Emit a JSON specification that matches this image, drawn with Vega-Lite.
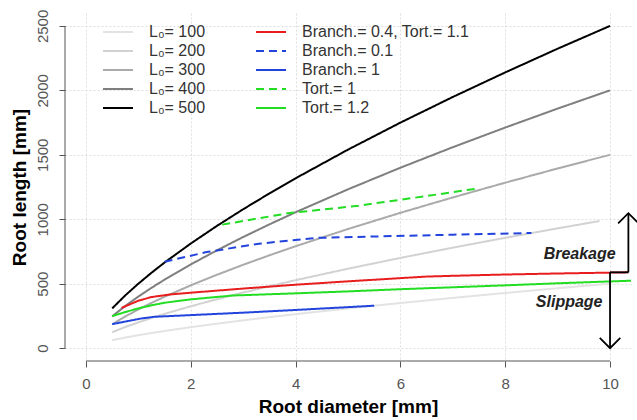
{
  "$schema": "https://vega.github.io/schema/vega-lite/v6.json",
  "width": 566,
  "height": 348,
  "autosize": {"type": "none"},
  "padding": {"left": 65, "top": 13, "right": 6, "bottom": 59},
  "background": "white",
  "config": {"view": {"stroke": null}, "font": "Liberation Sans"},
  "datasets": {
    "curves": [
      {"series": "L₀= 100", "d": 0.5, "L": 61.6}, {"series": "L₀= 100", "d": 0.75, "L": 81.8}, {"series": "L₀= 100", "d": 1, "L": 100}, {"series": "L₀= 100", "d": 1.25, "L": 116.9}, {"series": "L₀= 100", "d": 1.5, "L": 132.8}, {"series": "L₀= 100", "d": 2, "L": 162.3}, {"series": "L₀= 100", "d": 2.5, "L": 189.7}, {"series": "L₀= 100", "d": 3, "L": 215.5}, {"series": "L₀= 100", "d": 3.5, "L": 240}, {"series": "L₀= 100", "d": 4, "L": 263.5}, {"series": "L₀= 100", "d": 5, "L": 308}, {"series": "L₀= 100", "d": 6, "L": 349.9}, {"series": "L₀= 100", "d": 7, "L": 389.7}, {"series": "L₀= 100", "d": 8, "L": 427.8}, {"series": "L₀= 100", "d": 9, "L": 464.6}, {"series": "L₀= 100", "d": 10, "L": 500},
      {"series": "L₀= 200", "d": 0.5, "L": 123.2}, {"series": "L₀= 200", "d": 0.75, "L": 163.6}, {"series": "L₀= 200", "d": 1, "L": 200}, {"series": "L₀= 200", "d": 1.25, "L": 233.8}, {"series": "L₀= 200", "d": 1.5, "L": 265.6}, {"series": "L₀= 200", "d": 2, "L": 324.6}, {"series": "L₀= 200", "d": 2.5, "L": 379.4}, {"series": "L₀= 200", "d": 3, "L": 431}, {"series": "L₀= 200", "d": 3.5, "L": 480}, {"series": "L₀= 200", "d": 4, "L": 527}, {"series": "L₀= 200", "d": 5, "L": 616}, {"series": "L₀= 200", "d": 6, "L": 699.8}, {"series": "L₀= 200", "d": 7, "L": 779.4}, {"series": "L₀= 200", "d": 8, "L": 855.6}, {"series": "L₀= 200", "d": 9, "L": 929.2}, {"series": "L₀= 200", "d": 9.8, "L": 986},
      {"series": "L₀= 300", "d": 0.5, "L": 184.8}, {"series": "L₀= 300", "d": 0.75, "L": 245.4}, {"series": "L₀= 300", "d": 1, "L": 300}, {"series": "L₀= 300", "d": 1.25, "L": 350.7}, {"series": "L₀= 300", "d": 1.5, "L": 398.4}, {"series": "L₀= 300", "d": 2, "L": 486.9}, {"series": "L₀= 300", "d": 2.5, "L": 569.1}, {"series": "L₀= 300", "d": 3, "L": 646.5}, {"series": "L₀= 300", "d": 3.5, "L": 720}, {"series": "L₀= 300", "d": 4, "L": 790.5}, {"series": "L₀= 300", "d": 5, "L": 924}, {"series": "L₀= 300", "d": 6, "L": 1049.7}, {"series": "L₀= 300", "d": 7, "L": 1169.1}, {"series": "L₀= 300", "d": 8, "L": 1283.4}, {"series": "L₀= 300", "d": 9, "L": 1393.8}, {"series": "L₀= 300", "d": 10, "L": 1500},
      {"series": "L₀= 400", "d": 0.5, "L": 246.4}, {"series": "L₀= 400", "d": 0.75, "L": 327.2}, {"series": "L₀= 400", "d": 1, "L": 400}, {"series": "L₀= 400", "d": 1.25, "L": 467.6}, {"series": "L₀= 400", "d": 1.5, "L": 531.2}, {"series": "L₀= 400", "d": 2, "L": 649.2}, {"series": "L₀= 400", "d": 2.5, "L": 758.8}, {"series": "L₀= 400", "d": 3, "L": 862}, {"series": "L₀= 400", "d": 3.5, "L": 960}, {"series": "L₀= 400", "d": 4, "L": 1054}, {"series": "L₀= 400", "d": 5, "L": 1232}, {"series": "L₀= 400", "d": 6, "L": 1399.6}, {"series": "L₀= 400", "d": 7, "L": 1558.8}, {"series": "L₀= 400", "d": 8, "L": 1711.2}, {"series": "L₀= 400", "d": 9, "L": 1858.4}, {"series": "L₀= 400", "d": 10, "L": 2000},
      {"series": "L₀= 500", "d": 0.5, "L": 308}, {"series": "L₀= 500", "d": 0.75, "L": 409}, {"series": "L₀= 500", "d": 1, "L": 500}, {"series": "L₀= 500", "d": 1.25, "L": 584.5}, {"series": "L₀= 500", "d": 1.5, "L": 664}, {"series": "L₀= 500", "d": 2, "L": 811.5}, {"series": "L₀= 500", "d": 2.5, "L": 948.5}, {"series": "L₀= 500", "d": 3, "L": 1077.5}, {"series": "L₀= 500", "d": 3.5, "L": 1200}, {"series": "L₀= 500", "d": 4, "L": 1317.5}, {"series": "L₀= 500", "d": 5, "L": 1540}, {"series": "L₀= 500", "d": 6, "L": 1749.5}, {"series": "L₀= 500", "d": 7, "L": 1948.5}, {"series": "L₀= 500", "d": 8, "L": 2139}, {"series": "L₀= 500", "d": 9, "L": 2323}, {"series": "L₀= 500", "d": 10, "L": 2500},
      {"series": "Branch.= 1", "d": 0.5, "L": 186}, {"series": "Branch.= 1", "d": 0.8, "L": 210}, {"series": "Branch.= 1", "d": 1.06, "L": 230}, {"series": "Branch.= 1", "d": 1.3, "L": 243}, {"series": "Branch.= 1", "d": 2, "L": 256}, {"series": "Branch.= 1", "d": 3, "L": 275}, {"series": "Branch.= 1", "d": 4, "L": 296}, {"series": "Branch.= 1", "d": 5, "L": 318}, {"series": "Branch.= 1", "d": 5.5, "L": 329},
      {"series": "Tort.= 1.2", "d": 0.5, "L": 248}, {"series": "Tort.= 1.2", "d": 0.75, "L": 280}, {"series": "Tort.= 1.2", "d": 1, "L": 308}, {"series": "Tort.= 1.2", "d": 1.25, "L": 332}, {"series": "Tort.= 1.2", "d": 1.5, "L": 352}, {"series": "Tort.= 1.2", "d": 2, "L": 378}, {"series": "Tort.= 1.2", "d": 2.5, "L": 397}, {"series": "Tort.= 1.2", "d": 2.8, "L": 408}, {"series": "Tort.= 1.2", "d": 4, "L": 425}, {"series": "Tort.= 1.2", "d": 5, "L": 440}, {"series": "Tort.= 1.2", "d": 6, "L": 457}, {"series": "Tort.= 1.2", "d": 7, "L": 472}, {"series": "Tort.= 1.2", "d": 8, "L": 487}, {"series": "Tort.= 1.2", "d": 9, "L": 503}, {"series": "Tort.= 1.2", "d": 10.4, "L": 523},
      {"series": "Branch.= 0.4, Tort.= 1.1", "d": 0.68, "L": 312}, {"series": "Branch.= 0.4, Tort.= 1.1", "d": 1, "L": 368}, {"series": "Branch.= 0.4, Tort.= 1.1", "d": 1.25, "L": 396}, {"series": "Branch.= 0.4, Tort.= 1.1", "d": 1.6, "L": 416}, {"series": "Branch.= 0.4, Tort.= 1.1", "d": 2, "L": 430}, {"series": "Branch.= 0.4, Tort.= 1.1", "d": 2.5, "L": 446}, {"series": "Branch.= 0.4, Tort.= 1.1", "d": 3, "L": 462}, {"series": "Branch.= 0.4, Tort.= 1.1", "d": 4, "L": 492}, {"series": "Branch.= 0.4, Tort.= 1.1", "d": 5, "L": 518}, {"series": "Branch.= 0.4, Tort.= 1.1", "d": 6, "L": 543}, {"series": "Branch.= 0.4, Tort.= 1.1", "d": 6.5, "L": 555}, {"series": "Branch.= 0.4, Tort.= 1.1", "d": 7, "L": 561}, {"series": "Branch.= 0.4, Tort.= 1.1", "d": 8, "L": 571}, {"series": "Branch.= 0.4, Tort.= 1.1", "d": 9, "L": 579}, {"series": "Branch.= 0.4, Tort.= 1.1", "d": 10.35, "L": 588},
      {"series": "Branch.= 0.1", "d": 1.5, "L": 670}, {"series": "Branch.= 0.1", "d": 2.3, "L": 745}, {"series": "Branch.= 0.1", "d": 3.3, "L": 810}, {"series": "Branch.= 0.1", "d": 4.4, "L": 855}, {"series": "Branch.= 0.1", "d": 5.5, "L": 866}, {"series": "Branch.= 0.1", "d": 7, "L": 880}, {"series": "Branch.= 0.1", "d": 8.5, "L": 893},
      {"series": "Tort.= 1", "d": 2.6, "L": 958}, {"series": "Tort.= 1", "d": 3.85, "L": 1046}, {"series": "Tort.= 1", "d": 5.2, "L": 1105}, {"series": "Tort.= 1", "d": 6.5, "L": 1180}, {"series": "Tort.= 1", "d": 7.5, "L": 1240}
    ],
    "axislines": [
      {"d": -0.4, "d2": -0.4, "L": 0, "L2": 2500},
      {"d": 0, "d2": 10, "L": -100, "L2": -100}
    ],
    "arrows": [
      {"d": 10, "d2": 10, "L": 0, "L2": 588},
      {"d": 10, "d2": 10.35, "L": 588, "L2": 588},
      {"d": 10.35, "d2": 10.35, "L": 588, "L2": 1047}
    ],
    "heads": [
      {"d": 10, "L": 0, "dir": "down"},
      {"d": 10.35, "L": 1047, "dir": "up"}
    ],
    "labels": [
      {"d": 9.42, "L": 729, "text": "Breakage"},
      {"d": 9.22, "L": 359, "text": "Slippage"}
    ]
  },
  "layer": [
    {
      "data": {"name": "axislines"},
      "mark": {"type": "rule", "color": "#555555", "strokeWidth": 1},
      "encoding": {
        "x": {"field": "d", "type": "quantitative", "scale": {"domain": [-0.4, 10.4], "nice": false, "zero": false},
          "axis": {"values": [0, 2, 4, 6, 8, 10], "domain": false, "grid": true, "gridDash": [2, 2], "gridColor": "#dedede", "tickSize": 6, "tickColor": "#555555", "labelFontSize": 15, "labelColor": "#555555", "labelPadding": 9, "labelFont": "Liberation Sans", "title": "Root diameter [mm]", "titleFontSize": 19, "titleFont": "Liberation Sans", "titleFontWeight": "bold", "titleColor": "#000000", "titlePadding": 6}},
        "x2": {"field": "d2"},
        "y": {"field": "L", "type": "quantitative", "scale": {"domain": [-100, 2600], "nice": false, "zero": false},
          "axis": {"values": [0, 500, 1000, 1500, 2000, 2500], "format": "d", "domain": false, "grid": true, "gridDash": [2, 2], "gridColor": "#dedede", "tickSize": 6, "tickColor": "#555555", "labelFontSize": 15, "labelColor": "#555555", "labelAngle": 270, "labelAlign": "center", "labelBaseline": "bottom", "labelPadding": 9, "labelFont": "Liberation Sans", "title": "Root length [mm]", "titleFontSize": 19, "titleFont": "Liberation Sans", "titleFontWeight": "bold", "titleColor": "#000000", "titlePadding": 6}},
        "y2": {"field": "L2"}
      }
    },
    {
      "data": {"name": "curves"},
      "mark": {"type": "line"},
      "encoding": {
        "x": {"field": "d", "type": "quantitative"},
        "y": {"field": "L", "type": "quantitative"},
        "color": {"field": "series", "type": "nominal",
          "scale": {"domain": ["L₀= 100", "L₀= 200", "L₀= 300", "L₀= 400", "L₀= 500", "Branch.= 0.4, Tort.= 1.1", "Branch.= 0.1", "Branch.= 1", "Tort.= 1", "Tort.= 1.2"],
            "range": ["#e3e3e3", "#d2d2d2", "#aaaaaa", "#7f7f7f", "#000000", "#e81e1e", "#2244dd", "#2244dd", "#22dd22", "#22dd22"]},
          "legend": {"orient": "none", "legendX": 42, "legendY": 8, "columns": 2, "title": null, "symbolType": "M-1.5,0L1.5,0", "symbolSize": 400, "symbolStrokeWidth": 2.5, "symbolFillColor": "transparent", "labelFontSize": 16, "labelFont": "Liberation Sans", "labelColor": "#333333", "labelOffset": 20, "rowPadding": 0, "columnPadding": 46, "labelLimit": 300}},
        "strokeDash": {"field": "series", "type": "nominal",
          "scale": {"domain": ["L₀= 100", "L₀= 200", "L₀= 300", "L₀= 400", "L₀= 500", "Branch.= 0.4, Tort.= 1.1", "Branch.= 0.1", "Branch.= 1", "Tort.= 1", "Tort.= 1.2"],
            "range": [[1, 0], [1, 0], [1, 0], [1, 0], [1, 0], [1, 0], [8, 5], [1, 0], [8, 5], [1, 0]]},
          "legend": {"orient": "none", "legendX": 42, "legendY": 8, "columns": 2, "title": null, "symbolType": "M-1.5,0L1.5,0", "symbolSize": 400, "symbolStrokeWidth": 2.5, "symbolFillColor": "transparent", "labelFontSize": 16, "labelFont": "Liberation Sans", "labelColor": "#333333", "labelOffset": 20, "rowPadding": 0, "columnPadding": 46, "labelLimit": 300}},
        "strokeWidth": {"field": "series", "type": "nominal",
          "scale": {"domain": ["L₀= 100", "L₀= 200", "L₀= 300", "L₀= 400", "L₀= 500", "Branch.= 0.4, Tort.= 1.1", "Branch.= 0.1", "Branch.= 1", "Tort.= 1", "Tort.= 1.2"],
            "range": [2, 2, 2, 2, 2.2, 2.6, 2.6, 2.6, 2.6, 2.6]},
          "legend": null}
      }
    },
    {
      "data": {"name": "arrows"},
      "mark": {"type": "rule", "color": "#000000", "strokeWidth": 1.8},
      "encoding": {
        "x": {"field": "d", "type": "quantitative"},
        "x2": {"field": "d2"},
        "y": {"field": "L", "type": "quantitative"},
        "y2": {"field": "L2"}
      }
    },
    {
      "data": {"name": "heads"},
      "mark": {"type": "point", "filled": false, "color": "#000000", "strokeWidth": 1.8, "size": 420, "opacity": 1},
      "encoding": {
        "x": {"field": "d", "type": "quantitative"},
        "y": {"field": "L", "type": "quantitative"},
        "shape": {"field": "dir", "type": "nominal", "scale": {"domain": ["down", "up"], "range": ["M-1,-1L0,0L1,-1", "M-1,1L0,0L1,1"]}, "legend": null}
      }
    },
    {
      "data": {"name": "labels"},
      "mark": {"type": "text", "font": "Liberation Sans", "fontSize": 16, "fontStyle": "italic", "fontWeight": "bold", "color": "#222222", "align": "center", "baseline": "middle"},
      "encoding": {
        "x": {"field": "d", "type": "quantitative"},
        "y": {"field": "L", "type": "quantitative"},
        "text": {"field": "text"}
      }
    }
  ]
}
